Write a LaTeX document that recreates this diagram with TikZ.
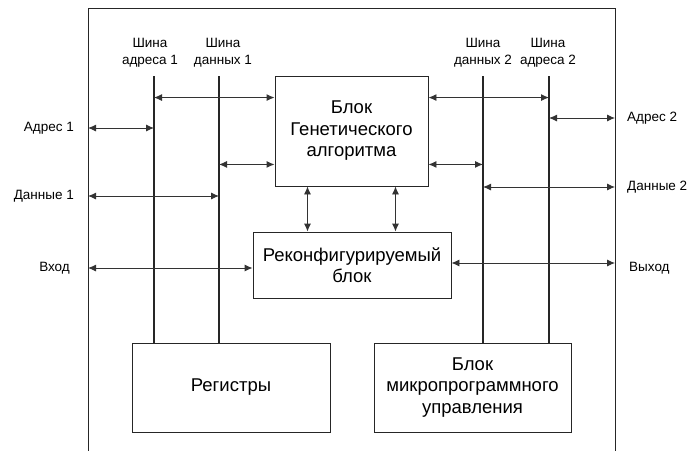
\documentclass[tikz,border=0pt]{standalone}
\usepackage{fontspec}
\setmainfont{Liberation Sans}
\usetikzlibrary{arrows.meta, positioning, calc}

\begin{document}
\begin{tikzpicture}[
    x=1pt, y=-1pt,
    box/.style={rectangle, draw=black!85, line width=0.9pt, align=center, font=\fontsize{18.5}{21.5}\selectfont},
    lbl/.style={align=center, inner sep=0pt, font=\fontsize{13.5}{17}\selectfont},
    bus/.style={line width=1.3pt, draw=black!85},
    link/.style={<->, >={Latex[length=8pt,width=7pt]}, line width=0.9pt, draw=black!80}
]
    \useasboundingbox (0,0) rectangle (691,450);

    % Outer frame (open at the bottom)
    \coordinate (fnw) at (88,8);
    \coordinate (fne) at (615,8);
    \draw[line width=0.9pt, draw=black!85] (88,452) -- (fnw) -- (fne) -- (615,452);

    % Blocks
    \node[box, minimum width=153pt, minimum height=110pt] (gen) at (351.5,131) {Блок\\Генетического\\алгоритма};
    \node[box, minimum width=198pt, minimum height=66pt] (rec) at (352,265) {Реконфигурируемый\\блок};
    \node[box, minimum width=198pt, minimum height=89pt] (reg) at (231,387.5) {Регистры};
    \node[box, minimum width=197pt, minimum height=89pt] (mpu) at (472.5,387.5) {Блок\\микропрограммного\\управления};

    % Buses
    \coordinate (sa1) at (154,76);
    \coordinate (sd1) at (219,76);
    \coordinate (sd2) at (483,76);
    \coordinate (sa2) at (549,76);
    \draw[bus] (sa1) -- (sa1 |- reg.north);
    \draw[bus] (sd1) -- (sd1 |- reg.north);
    \draw[bus] (sd2) -- (sd2 |- mpu.north);
    \draw[bus] (sa2) -- (sa2 |- mpu.north);

    % Bus labels
    \node[lbl] (lsa1) at (150,53) {Шина\\адреса 1};
    \node[lbl] (lsd1) at (223,53) {Шина\\данных 1};
    \node[lbl] (lsd2) at (483,53) {Шина\\данных 2};
    \node[lbl] (lsa2) at (548,53) {Шина\\адреса 2};

    % Links between buses and the genetic block
    \coordinate (g1) at ([yshift=-22pt]gen.north west);
    \coordinate (g2) at ([yshift=22pt]gen.south west);
    \coordinate (g3) at ([yshift=-22pt]gen.north east);
    \coordinate (g4) at ([yshift=22pt]gen.south east);
    \draw[link] (sa1 |- g1) -- (g1);
    \draw[link] (sd1 |- g2) -- (g2);
    \draw[link] (g3) -- (sa2 |- g3);
    \draw[link] (g4) -- (sd2 |- g4);

    % Genetic block <-> reconfigurable block
    \coordinate (v1) at ([xshift=-44pt]gen.south);
    \coordinate (v2) at ([xshift=44pt]gen.south);
    \draw[link] (v1) -- (v1 |- rec.north);
    \draw[link] (v2) -- (v2 |- rec.north);

    % External inputs
    \coordinate (inA1) at (88,128);
    \coordinate (inD1) at (88,196);
    \coordinate (inX) at (88,268);
    \draw[link] (inA1) -- (sa1 |- inA1);
    \draw[link] (inD1) -- (sd1 |- inD1);
    \draw[link] (inX) -- (rec.west |- inX);
    \node[lbl, left=14pt of inA1] (la1) {Адрес 1};
    \node[lbl, left=14pt of inD1] (ld1) {Данные 1};
    \node[lbl, left=18pt of inX] (lin) {Вход};

    % External outputs
    \coordinate (outA2) at (615,118);
    \coordinate (outD2) at (615,187);
    \coordinate (outY) at (615,263);
    \draw[link] (sa2 |- outA2) -- (outA2);
    \draw[link] (sd2 |- outD2) -- (outD2);
    \draw[link] (rec.east |- outY) -- (outY);
    \node[lbl, right=12pt of outA2] (la2) {Адрес 2};
    \node[lbl, right=12pt of outD2] (ld2) {Данные 2};
    \node[lbl, right=14pt of outY, yshift=-5pt] (lout) {Выход};

\end{tikzpicture}
\end{document}
